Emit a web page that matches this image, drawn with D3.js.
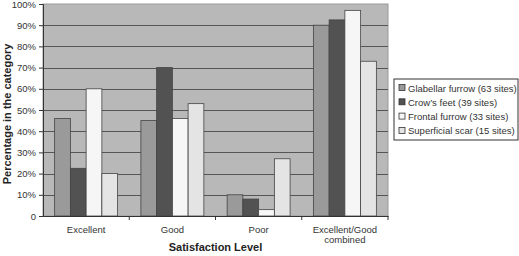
<!DOCTYPE html>
<html>
<head>
<meta charset="utf-8">
<script src="https://cdn.jsdelivr.net/npm/d3@7"></script>
<style>
  body { margin: 0; background: #fff; }
  text { font-family: "Liberation Sans", Arial, sans-serif; }
</style>
</head>
<body>
<div id="chart"></div>
<script>
// Chart data
const categories = ['Excellent', 'Good', 'Poor', 'Excellent/Good combined'];
const seriesNames = ['Glabellar furrow (63 sites)', 'Crow\u2019s feet (39 sites)', 'Frontal furrow (33 sites)', 'Superficial scar (15 sites)'];
const glabellar = [46, 45, 10, 90];
const crowsFeet = [22.5, 70, 8, 92.5];
const frontal = [60, 46, 3, 97];
const superficial = [20, 53, 27, 73];
const yTicks = [0, 10, 20, 30, 40, 50, 60, 70, 80, 90, 100];
const colors = ['#9a9a9a', '#525252', '#f6f6f6', '#e4e4e4'];

const seriesValues = [glabellar, crowsFeet, frontal, superficial];

const margin = { top: 4, right: 131, bottom: 40, left: 43 };
const width = 519 - margin.left - margin.right;
const height = 256 - margin.top - margin.bottom;

const svg = d3.select('#chart')
    .append('svg')
    .attr('width', 519)
    .attr('height', 256)
    .append('g')
    .attr('transform', `translate(${margin.left},${margin.top})`);

// Scales
const x = d3.scaleBand()
    .domain(categories)
    .range([0, width])
    .paddingInner(0.27)
    .paddingOuter(0.135);

const xGroup = d3.scaleBand()
    .domain(categories)
    .range([0, width]);

const xInner = d3.scaleBand()
    .domain(seriesNames)
    .range([0, x.bandwidth()]);

const y = d3.scaleLinear()
    .domain([0, 100])
    .range([height, 0]);

// Plot background
svg.append('rect')
    .attr('width', width)
    .attr('height', height)
    .attr('fill', '#b8b8b8')
    .attr('stroke', '#9a9a9a')
    .attr('stroke-width', 1);

// Grid lines
svg.append('g')
    .selectAll('line')
    .data(yTicks.slice(1, -1))
    .enter()
    .append('line')
    .attr('x1', 0)
    .attr('x2', width)
    .attr('y1', d => Math.round(y(d)) + 0.5)
    .attr('y2', d => Math.round(y(d)) + 0.5)
    .attr('stroke', '#555')
    .attr('stroke-width', 1);

// Bars
svg.append('g')
    .selectAll('g')
    .data(categories)
    .enter()
    .append('g')
    .attr('transform', d => `translate(${x(d)},0)`)
    .selectAll('rect')
    .data((d, i) => seriesNames.map((name, s) => ({ key: name, idx: s, value: seriesValues[s][i] })))
    .enter()
    .append('rect')
    .attr('x', d => xInner(d.key))
    .attr('y', d => y(d.value))
    .attr('width', xInner.bandwidth())
    .attr('height', d => height - y(d.value))
    .attr('fill', d => colors[d.idx])
    .attr('stroke', '#444')
    .attr('stroke-width', 0.8);

// Y axis
const yAxis = svg.append('g')
    .call(d3.axisLeft(y)
        .tickValues(yTicks)
        .tickSize(4)
        .tickFormat(d => d === 0 ? '0' : d + '%'));

yAxis.selectAll('text')
    .style('font-size', '9.5px')
    .attr('fill', '#333');
yAxis.selectAll('path, line').style('stroke', '#333');

// X axis
const xAxis = svg.append('g')
    .attr('transform', `translate(0,${height})`)
    .call(d3.axisBottom(xGroup).tickSize(0).tickFormat(''));
xAxis.select('path').style('stroke', '#333');

svg.append('g')
    .selectAll('line')
    .data(d3.range(1, categories.length + 1))
    .enter()
    .append('line')
    .attr('x1', d => d * xGroup.bandwidth())
    .attr('x2', d => d * xGroup.bandwidth())
    .attr('y1', height)
    .attr('y2', height + 4)
    .attr('stroke', '#333');

// Category labels
const labelLines = {
    'Excellent': ['Excellent'],
    'Good': ['Good'],
    'Poor': ['Poor'],
    'Excellent/Good combined': ['Excellent/Good', 'combined']
};
svg.append('g')
    .selectAll('text')
    .data(categories)
    .enter()
    .append('text')
    .attr('x', d => xGroup(d) + xGroup.bandwidth() / 2)
    .attr('y', height + 17)
    .attr('text-anchor', 'middle')
    .style('font-size', '9.5px')
    .attr('fill', '#333')
    .selectAll('tspan')
    .data(d => labelLines[d])
    .enter()
    .append('tspan')
    .attr('x', function () { return d3.select(this.parentNode).attr('x'); })
    .attr('dy', (d, i) => i === 0 ? 0 : 10)
    .text(d => d);

// Axis titles
svg.append('text')
    .attr('x', width / 2)
    .attr('y', height + 35)
    .attr('text-anchor', 'middle')
    .style('font-size', '11px')
    .style('font-weight', 'bold')
    .attr('fill', '#222')
    .text('Satisfaction Level');

svg.append('text')
    .attr('transform', `translate(${-32},${height / 2 + 4}) rotate(-90)`)
    .attr('text-anchor', 'middle')
    .style('font-size', '11px')
    .style('font-weight', 'bold')
    .attr('fill', '#222')
    .text('Percentage in the category');

// Legend
const legend = svg.append('g')
    .attr('transform', `translate(${width + 6},75)`);

legend.append('rect')
    .attr('width', 124)
    .attr('height', 61)
    .attr('fill', '#fff')
    .attr('stroke', '#333');

const items = legend.selectAll('g')
    .data(seriesNames)
    .enter()
    .append('g')
    .attr('transform', (d, i) => `translate(5,${9 + i * 14.3})`);

items.append('rect')
    .attr('x', 0)
    .attr('y', -3.5)
    .attr('width', 6)
    .attr('height', 6)
    .attr('fill', (d, i) => colors[i])
    .attr('stroke', '#333')
    .attr('stroke-width', 0.8);

items.append('text')
    .attr('x', 9)
    .attr('y', 3.5)
    .style('font-size', '9.5px')
    .attr('fill', '#333')
    .text(d => d);
</script>
</body>
</html>
